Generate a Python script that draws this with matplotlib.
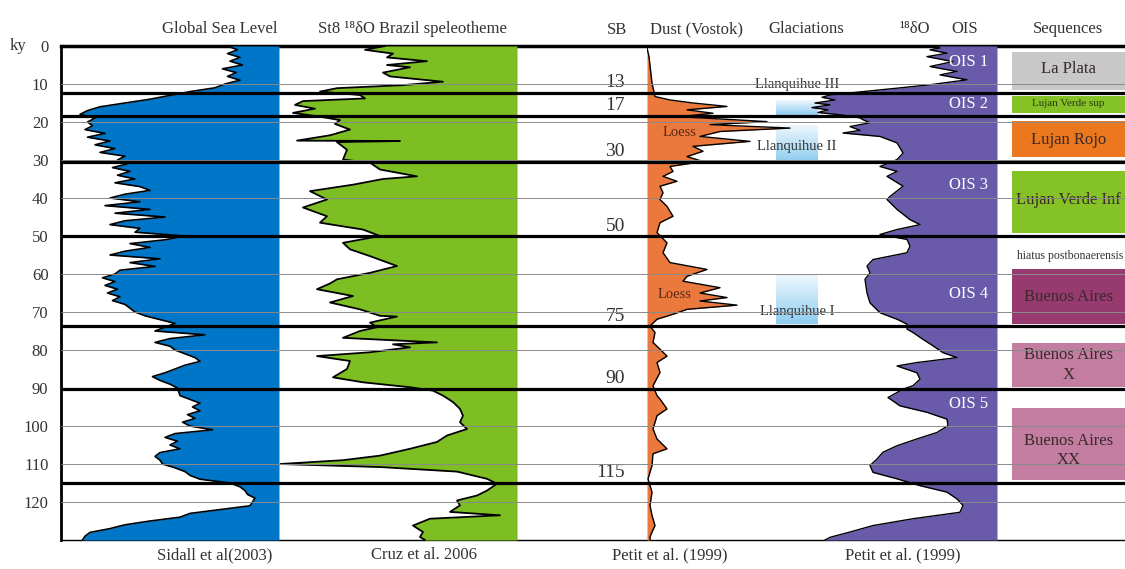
import matplotlib
matplotlib.use('Agg')
import matplotlib.pyplot as plt
import numpy as np
from matplotlib.colors import LinearSegmentedColormap

plt.rcParams['font.family'] = ['Liberation Serif', 'DejaVu Serif']

# ---- data (ages in ky) ----
# Global sea level, metres (Siddall et al. 2003)
sl_age = [0, 1, 2, 3, 4, 5, 6, 7, 8, 9, 10, 11, 12, 13, 14, 15, 16, 17, 18, 19,
          20, 21, 22, 23, 24, 25, 26, 27, 28, 29, 30, 31, 32, 33, 34, 35, 36, 37, 38, 39,
          40, 41, 42, 43, 44, 45, 46, 47, 48, 49, 50, 51, 52, 53, 54, 55, 56, 57, 58, 59,
          60, 61, 62, 63, 64, 65, 66, 67, 68, 69, 70, 71, 72, 73, 74, 75, 76, 77, 78, 79,
          80, 81, 82, 83, 84, 85, 86, 87, 88, 89, 90, 92, 94, 95, 96, 97, 98, 99,
          100, 101, 102, 103, 104, 105, 106, 107, 108, 109, 110, 111, 112, 113, 114, 115,
          116, 117, 118, 119, 120, 121, 122, 123, 124, 125, 126, 127, 128, 129, 130]
sl_m = [-10, -2, -10, 0, -8, 2, -14, -3, -10, 0, -12, -20, -40, -56, -72, -92, -112, -122, -128, -116,
        -122, -118, -124, -108, -122, -104, -116, -100, -112, -92, -98, -90, -102, -88, -98, -84, -100, -80, -72, -92,
        -104, -80, -108, -72, -100, -60, -92, -104, -80, -84, -44, -60, -88, -72, -92, -104, -64, -88, -68, -96,
        -100, -110, -100, -108, -98, -106, -96, -102, -92, -88, -84, -76, -64, -52, -60, -68, -28, -56, -68, -56,
        -52, -44, -36, -32, -44, -52, -60, -70, -64, -56, -50, -48, -32, -38, -32, -42, -36, -46,
        -40, -22, -52, -60, -50, -56, -48, -64, -68, -64, -62, -52, -44, -40, -32, -8,
        0, 4, 6, 12, 10, 8, -16, -40, -48, -72, -92, -104, -120, -124, -126]

# St8 speleothem d18O, permil (Cruz et al. 2006)
sp_age = [0, 1, 2, 3, 4, 5, 5.6, 7, 8, 9.4, 10.3, 11.1, 12, 12.9, 13.8, 14.5, 15.5, 16.5, 17.6, 18.6,
          19.5, 20.5, 22, 23.5, 24.9, 25.0, 25.3, 27.3, 29.9, 30.7, 32.5, 34.3, 35, 36.5, 38.2, 40.4,
          42.5, 44.8, 46.5, 48.3, 50, 51.8, 53.5, 55.3, 57.9, 59.7, 61.4, 62.5, 64, 65.8, 67.5, 69.3,
          71, 71.2, 72.8, 74, 75, 76.8, 78, 78.5, 79.3, 80.6, 81.6, 82.9, 85, 87.2, 88.5, 89.8, 90.7,
          92, 93.7, 95.5, 97.3, 99, 100.8, 102.5, 104.2, 106, 107.8, 109, 110, 110.8, 112, 113.9,
          115.2, 117, 118.3, 119.6, 120.9, 122.6, 123.5, 124.4, 126.2, 127.9, 129.2, 130]
sp_d18o = [-3.90, -4.30, -3.74, -3.86, -3.06, -3.86, -3.40, -3.94, -3.80, -2.74, -3.54, -4.86, -5.20, -4.40,
           -4.30, -5.54, -5.70, -5.30, -5.74, -5.20, -4.80, -4.90, -4.60, -5.00, -5.66, -3.60, -4.86, -4.66,
           -4.74, -4.20, -4.00, -3.26, -3.94, -4.54, -5.40, -5.06, -5.54, -5.06, -5.20, -4.34, -4.00, -4.74,
           -4.60, -4.20, -3.66, -4.20, -4.86, -5.00, -5.26, -4.54, -5.00, -4.40, -4.00, -3.66, -4.20, -4.06,
           -4.40, -4.74, -2.86, -3.74, -3.40, -4.20, -5.26, -4.60, -4.66, -4.94, -4.34, -3.40, -2.94, -2.74,
           -2.54, -2.40, -2.34, -2.40, -2.26, -2.66, -2.86, -3.40, -4.00, -4.74, -6.00, -4.00, -2.46, -1.86,
           -1.66, -1.86, -2.06, -2.46, -2.40, -2.60, -1.60, -3.00, -3.34, -3.14, -3.20, -3.10]

# Vostok dust, ppm (Petit et al. 1999)
du_age = [0, 0.5, 2.8, 9.8, 13.3, 14.2, 15, 15.9, 16.8, 17.7, 18.6, 19.9, 20.7, 21.6, 22.5, 23.8, 25.1,
          26.4, 27.7, 29.1, 30.4, 31.7, 33, 34.3, 35.6, 36.9, 38.6, 40.4, 42.2, 44.8, 46.5, 49.1, 51.8,
          54.4, 57, 58.8, 60.6, 61.9, 63.6, 65, 66.2, 67.1, 68.2, 69.3, 70.6, 71.9, 73.7, 75.4, 78, 81.6,
          83.3, 85.9, 89.4, 92, 92.9, 95.5, 97.3, 100.8, 103.4, 106, 107.3, 110.4, 113.9, 117.4, 120.9,
          123.5, 126.2, 127.9, 129.2, 130]
du_ppm = [0.0, 0.0, 0.02, 0.05, 0.08, 0.23, 0.46, 0.80, 0.40, 0.66, 0.33, 1.20, 0.63, 1.43, 0.73, 0.53, 1.03,
          0.46, 0.56, 0.40, 0.56, 0.23, 0.26, 0.16, 0.30, 0.13, 0.16, 0.13, 0.20, 0.26, 0.13, 0.10, 0.20,
          0.16, 0.23, 0.60, 0.40, 0.36, 0.73, 0.53, 0.80, 0.53, 0.90, 0.40, 0.26, 0.10, 0.03, 0.08, 0.06, 0.20,
          0.10, 0.13, 0.06, 0.10, 0.13, 0.20, 0.10, 0.06, 0.10, 0.20, 0.06, 0.05, 0.01, 0.05, 0.03,
          0.05, 0.08, 0.05, 0.03, 0.03]

# marine d18O, permil (Petit et al. 1999)
o18_age = [0, 0.5, 1, 1.9, 2.8, 4.1, 5.4, 6.7, 7.6, 8.9, 10.2, 11.1, 12, 12.9, 13.5, 14.2, 15, 15.5, 16.2,
           16.8, 17.5, 18.1, 18.9, 19.4, 20.2, 21.2, 22.2, 22.9, 23.8, 25.5, 26.8, 28.2, 29.9, 31.7, 33,
           34.3, 36.9, 39.6, 40.4, 43, 45.7, 47, 48.3, 49.6, 50.9, 52.7, 54.4, 56.2, 57.9, 59.7, 61.4, 65,
           67.6, 70.2, 71.9, 73.2, 74.5, 75.4, 77.2, 78.9, 80.7, 82, 83.3, 84.2, 86, 87.7, 89.4, 90.3, 91.2,
           92.5, 94.7, 96.4, 98.2, 99.9, 101.7, 103.4, 105.2, 106.9, 108.7, 110.4, 112.2, 113.9, 115.7,
           117.4, 119.2, 120.9, 122.7, 124.4, 126.2, 127.9, 129.3, 130]
o18_val = [3.75, 3.70, 3.80, 3.63, 3.83, 3.57, 3.80, 3.53, 3.70, 3.43, 3.80, 4.13, 4.47, 4.80, 4.88, 4.75,
           4.95, 4.80, 4.98, 4.82, 4.92, 4.70, 4.50, 4.47, 4.40, 4.60, 4.50, 4.67, 4.30, 4.13, 4.10, 4.07,
           4.13, 4.30, 4.13, 4.23, 4.07, 4.20, 4.23, 4.13, 4.00, 3.90, 4.13, 4.30, 4.03, 4.00, 4.03, 4.37,
           4.43, 4.40, 4.45, 4.43, 4.40, 4.30, 4.13, 4.03, 4.03, 3.97, 3.87, 3.77, 3.67, 3.53, 3.93, 4.13,
           3.93, 3.90, 3.97, 4.07, 4.13, 4.22, 4.10, 3.83, 3.63, 3.62, 3.73, 3.93, 4.13, 4.27, 4.33, 4.40,
           4.37, 4.13, 3.90, 3.63, 3.53, 3.47, 3.50, 3.97, 4.37, 4.60, 4.80, 4.85]

# sequence boundaries (SB)
sb_lines = [12.3, 18.4, 30.4, 50.1, 73.8, 90.2, 115.0]
sb_labels = ['13', '17', '30', '50', '75', '90', '115']

# glaciations
glac_names = ['Llanquihue III', 'Llanquihue II', 'Llanquihue I']
glac_top = [14.2, 20.7, 60.1]
glac_bottom = [18.1, 30.4, 73.2]
glac_label_age = [10.2, 26.5, 70.0]

# oxygen isotope stages
ois_names = ['OIS 1', 'OIS 2', 'OIS 3', 'OIS 4', 'OIS 5']
ois_age = [4.2, 15.3, 36.5, 65.3, 94.2]

# sequences
seq_names = ['La Plata', 'Lujan Verde sup', 'Lujan Rojo', 'Lujan Verde Inf',
             'Buenos Aires', 'Buenos Aires\nX', 'Buenos Aires\nXX']
seq_top = [1.6, 13.1, 19.7, 32.8, 58.8, 78.2, 95.3]
seq_bottom = [11.5, 17.6, 29.1, 49.1, 73.2, 89.8, 114.2]
seq_label_age = [6.0, 15.2, 24.7, 40.6, 66.0, 84.0, 106.4]
seq_colors = ['#C8C8C8', '#84C225', '#EB781E', '#84C225', '#963A70', '#C27DA0', '#C27DA0']

W, H = 1125, 569
TOP, BOT = 46, 540
AGE_MAX = 130

fig = plt.figure(figsize=(W / 100, H / 100), dpi=100)


def col_axes(x0, x1, z=1):
    ax = fig.add_axes([x0 / W, (H - BOT) / H, (x1 - x0) / W, (BOT - TOP) / H], zorder=z)
    ax.set_ylim(AGE_MAX, 0)
    ax.patch.set_alpha(0)
    ax.axis('off')
    return ax


# base frame with age axis
base = fig.add_axes([61 / W, (H - BOT) / H, (W - 61) / W, (BOT - TOP) / H], zorder=0)
base.set_ylim(AGE_MAX, 0)
base.set_xlim(0, 1)
base.set_xticks([])
base.set_yticks(range(0, 121, 10))
base.tick_params(axis='y', length=0, pad=9, labelsize=12, labelcolor='#333333')
base.spines['right'].set_visible(False)
base.spines['left'].set_linewidth(2)
base.spines['top'].set_linewidth(2.5)
base.spines['bottom'].set_linewidth(1)

# sea level
ax_sl = col_axes(61, 279)
ax_sl.set_xlim(-143.2, 31.2)
ax_sl.fill_betweenx(sl_age, sl_m, 31.2, color='#0076C8', lw=0)
ax_sl.plot(sl_m, sl_age, color='black', lw=1.2)

# speleothem
ax_sp = col_axes(280, 517)
ax_sp.set_xlim(-6.0, -1.26)
ax_sp.fill_betweenx(sp_age, sp_d18o, -1.26, color='#7DBE23', lw=0)
ax_sp.plot(sp_d18o, sp_age, color='black', lw=1.3)
ax_sp.axvline(-1.27, color='#5E8F1A', lw=1)

# glaciations
ax_gl = col_axes(776, 818)
ice = LinearSegmentedColormap.from_list('ice', ['#EEF7FD', '#8FCDF0'])
grad = np.linspace(0, 1, 64).reshape(-1, 1)
for t, b in zip(glac_top, glac_bottom):
    ax_gl.imshow(grad, cmap=ice, aspect='auto', extent=(0, 1, b, t), origin='upper')
ax_gl.set_xlim(0, 1)
ax_gl.set_ylim(AGE_MAX, 0)

# dust
ax_du = col_axes(647, 847, z=2)
ax_du.set_xlim(0, 2.0)
ax_du.fill_betweenx(du_age, 0, du_ppm, color='#EB783C', lw=0)
ax_du.plot(du_ppm, du_age, color='black', lw=1.0)

# marine d18O
ax_o = col_axes(800, 997)
ax_o.set_xlim(5.10, 3.13)
ax_o.fill_betweenx(o18_age, o18_val, 3.13, color='#695AAA', lw=0)
ax_o.plot(o18_val, o18_age, color='black', lw=1.0)
for name, a in zip(ois_names, ois_age):
    ax_o.text(3.22, a, name, ha='right', va='center', color='white', fontsize=12)

# sequences
ax_sq = col_axes(1012, W)
ax_sq.set_xlim(0, 1)
for name, t, b, c, la in zip(seq_names, seq_top, seq_bottom, seq_colors, seq_label_age):
    ax_sq.barh((t + b) / 2, 1, height=b - t, left=0, color=c, lw=0)
    fs = 8 if name == 'Lujan Verde sup' else 12
    tc = '#2E3A12' if name == 'Lujan Verde sup' else '#3A2A2A'
    ax_sq.text(0.5, la, name, ha='center', va='center', fontsize=fs, color=tc,
               linespacing=1.3, clip_on=False)
ax_sq.text(0.04, 55.3, 'hiatus postbonaerensis', ha='left', va='center', fontsize=8.5,
           color='#333333', clip_on=False)

# overlay: horizontal lines and labels
top = col_axes(61, W, z=5)
top.set_xlim(0, 1)
top.hlines(range(10, 130, 10), 0, 1, color='#8A8A8A', lw=0.7)
top.hlines(sb_lines, 0, 1, color='black', lw=2.3)

for lab, a in zip(sb_labels, sb_lines):
    ax_du.text(-0.22, a - 0.4, lab, ha='right', va='bottom', fontsize=14, color='#333333', clip_on=False)

for name, a in zip(glac_names, glac_label_age):
    ax_gl.text(0.5, a, name, ha='center', va='center', fontsize=10.5, color='#333333',
               clip_on=False, zorder=10)

ax_du.text(0.33, 22.8, 'Loess', ha='center', va='center', fontsize=10.5, color='#5A2A10')
ax_du.text(0.28, 65.3, 'Loess', ha='center', va='center', fontsize=10.5, color='#5A2A10')

# headers and sources
hdr = dict(ha='center', va='center', fontsize=12, color='#333333')
fig.text(220 / W, 1 - 29 / H, 'Global Sea Level', **hdr)
fig.text(412 / W, 1 - 29 / H, 'St8 \u00b9\u2078\u03b4O Brazil speleotheme', **hdr)
fig.text(617 / W, 1 - 30 / H, 'SB', **hdr)
fig.text(697 / W, 1 - 29 / H, 'Dust (Vostok)', **hdr)
fig.text(806 / W, 1 - 29 / H, 'Glaciations', **hdr)
fig.text(915 / W, 1 - 29 / H, '\u00b9\u2078\u03b4O', **hdr)
fig.text(965 / W, 1 - 29 / H, 'OIS', **hdr)
fig.text(1068 / W, 1 - 29 / H, 'Sequences', **hdr)
fig.text(18 / W, 1 - 46 / H, 'ky', **hdr)

fig.text(215 / W, 1 - 555 / H, 'Sidall et al(2003)', **hdr)
fig.text(424 / W, 1 - 555 / H, 'Cruz et al. 2006', **hdr)
fig.text(670 / W, 1 - 555 / H, 'Petit et al. (1999)', **hdr)
fig.text(903 / W, 1 - 555 / H, 'Petit et al. (1999)', **hdr)

fig.savefig('out.png', dpi=100)
